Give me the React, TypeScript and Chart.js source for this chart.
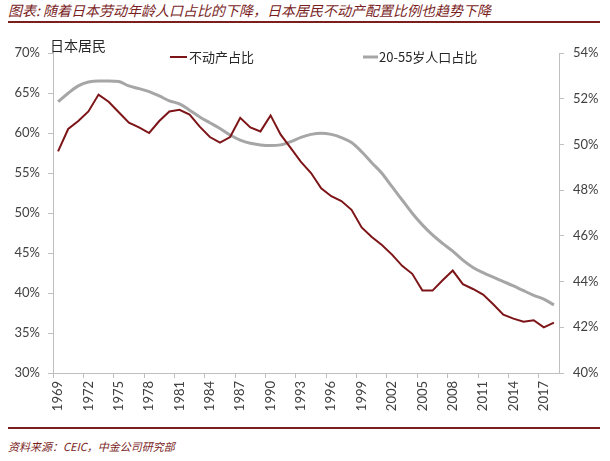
import React, { useEffect, useRef } from 'react';
import { Chart, registerables } from 'chart.js';

Chart.register(...registerables);

const titleText = '图表: 随着日本劳动年龄人口占比的下降，日本居民不动产配置比例也趋势下降';
const sourceText = '资料来源：CEIC，中金公司研究部';
const unitLabel = '日本居民';
const seriesNames = ['不动产占比', '20-55岁人口占比'];

const years = [
  '1969', '1970', '1971', '1972', '1973', '1974', '1975', '1976', '1977', '1978',
  '1979', '1980', '1981', '1982', '1983', '1984', '1985', '1986', '1987', '1988',
  '1989', '1990', '1991', '1992', '1993', '1994', '1995', '1996', '1997', '1998',
  '1999', '2000', '2001', '2002', '2003', '2004', '2005', '2006', '2007', '2008',
  '2009', '2010', '2011', '2012', '2013', '2014', '2015', '2016', '2017', '2018',
];

// 不动产占比 (left axis, %)
const realEstateShare = [
  57.7, 60.5, 61.5, 62.7, 64.8, 63.9, 62.6, 61.3, 60.7, 60.0,
  61.5, 62.7, 62.9, 62.3, 60.8, 59.5, 58.8, 59.5, 61.9, 60.7,
  60.2, 62.2, 59.8, 58.1, 56.4, 55.0, 53.1, 52.1, 51.5, 50.4,
  48.2, 47.0, 46.0, 44.8, 43.4, 42.4, 40.3, 40.3, 41.6, 42.8,
  41.1, 40.5, 39.8, 38.6, 37.3, 36.8, 36.4, 36.6, 35.7, 36.3,
];

// 20-55岁人口占比 (right axis, %)
const workingAgeShare = [
  51.87, 52.24, 52.56, 52.73, 52.78, 52.78, 52.75, 52.56, 52.44, 52.31,
  52.12, 51.91, 51.77, 51.5, 51.2, 50.95, 50.7, 50.41, 50.19, 50.05,
  49.98, 49.95, 49.98, 50.12, 50.31, 50.44, 50.49, 50.44, 50.3, 50.08,
  49.68, 49.2, 48.74, 48.15, 47.57, 46.99, 46.48, 46.04, 45.67, 45.33,
  44.94, 44.62, 44.39, 44.19, 44.0, 43.81, 43.6, 43.4, 43.23, 42.98,
];

const leftAxis = { min: 30, max: 70, step: 5 };
const rightAxis = { min: 40, max: 54, step: 2 };
const xLabelEvery = 3;

const RED = '#7d1518';
const GREY = '#a6a6a6';
const AXIS = '#bfbfbf';
const TEXT = '#404040';
const BRAND = '#7a1e1e';

const overlayPlugin = {
  id: 'overlay',
  afterDraw(chart: any) {
    const { ctx, chartArea } = chart;
    ctx.save();
    ctx.textBaseline = 'middle';
    ctx.textAlign = 'left';
    ctx.fillStyle = '#262626';
    ctx.font = '14px "Noto Sans CJK SC"';
    ctx.fillText(unitLabel, chartArea.left - 3, chartArea.top - 7);

    const ly = chartArea.top + 4;
    ctx.font = '13px "Noto Sans CJK SC"';
    // legend item 1
    ctx.strokeStyle = RED;
    ctx.lineWidth = 2;
    ctx.beginPath();
    ctx.moveTo(170, ly);
    ctx.lineTo(187, ly);
    ctx.stroke();
    ctx.fillText(seriesNames[0], 189, ly);
    // legend item 2
    ctx.strokeStyle = GREY;
    ctx.lineWidth = 3;
    ctx.beginPath();
    ctx.moveTo(363, ly);
    ctx.lineTo(378, ly);
    ctx.stroke();
    ctx.fillText(seriesNames[1], 379, ly);
    ctx.restore();
  },
};

export default function App() {
  const ref = useRef<HTMLCanvasElement | null>(null);

  useEffect(() => {
    if (!ref.current) return;
    const tickFont = { family: 'Lato', size: 13 };
    const chart = new Chart(ref.current, {
      type: 'line',
      data: {
        labels: years,
        datasets: [
          {
            label: seriesNames[0],
            data: realEstateShare,
            yAxisID: 'yL',
            borderColor: RED,
            backgroundColor: RED,
            borderWidth: 2,
            pointRadius: 0,
            tension: 0,
            order: 0,
          },
          {
            label: seriesNames[1],
            data: workingAgeShare,
            yAxisID: 'yR',
            borderColor: GREY,
            backgroundColor: GREY,
            borderWidth: 3,
            pointRadius: 0,
            cubicInterpolationMode: 'monotone',
            order: 1,
          },
        ],
      },
      options: {
        animation: false,
        responsive: true,
        maintainAspectRatio: false,
        events: [],
        layout: { padding: { top: 23, left: 0, right: 0, bottom: 0 } },
        plugins: { legend: { display: false }, tooltip: { enabled: false } },
        scales: {
          x: {
            type: 'category',
            offset: true,
            grid: {
              offset: true,
              drawOnChartArea: false,
              drawTicks: true,
              tickLength: 5,
              color: (c: any) => (c.index % xLabelEvery === 0 ? AXIS : 'rgba(0,0,0,0)'),
              tickColor: (c: any) => (c.index % xLabelEvery === 0 ? AXIS : 'rgba(0,0,0,0)'),
            },
            border: { color: AXIS, width: 1 },
            ticks: {
              autoSkip: false,
              minRotation: 90,
              maxRotation: 90,
              padding: 3,
              color: TEXT,
              font: { family: 'Lato', size: 13 },
              callback: function (this: any, value: any, index: number) {
                return index % xLabelEvery === 0 ? this.getLabelForValue(value) : '';
              },
            },
            afterFit: (s: any) => {
              s.height = 47;
            },
          },
          yL: {
            position: 'left',
            min: leftAxis.min,
            max: leftAxis.max,
            grid: { drawOnChartArea: false, tickLength: 5, color: AXIS },
            border: { color: AXIS, width: 1 },
            ticks: {
              stepSize: leftAxis.step,
              padding: 8,
              color: TEXT,
              font: tickFont,
              callback: (v: any) => `${v}%`,
            },
            afterFit: (s: any) => {
              s.width = 53;
            },
          },
          yR: {
            position: 'right',
            min: rightAxis.min,
            max: rightAxis.max,
            grid: { drawOnChartArea: false, tickLength: 5, color: AXIS },
            border: { color: AXIS, width: 1 },
            ticks: {
              stepSize: rightAxis.step,
              padding: 9,
              color: TEXT,
              font: tickFont,
              callback: (v: any) => `${v}%`,
            },
            afterFit: (s: any) => {
              s.width = 51;
            },
          },
        },
      } as any,
      plugins: [overlayPlugin],
    });
    return () => chart.destroy();
  }, []);

  return (
    <div style={{ position: 'absolute', left: 0, top: 0, width: 610, height: 461, background: '#fff', overflow: 'hidden' }}>
      <div
        style={{
          position: 'absolute',
          left: 8,
          top: 1,
          fontSize: 14,
          lineHeight: '18px',
          fontStyle: 'italic',
          color: BRAND,
          fontFamily: '"Noto Sans CJK SC", sans-serif',
          whiteSpace: 'nowrap',
        }}
      >
        {titleText}
      </div>
      <div style={{ position: 'absolute', left: 8, top: 21, width: 592, height: 0, borderTop: `2px solid ${BRAND}` }} />
      <div style={{ position: 'absolute', left: 0, top: 30, width: 610, height: 390 }}>
        <canvas ref={ref} />
      </div>
      <div style={{ position: 'absolute', left: 8, top: 427, width: 592, height: 0, borderTop: `2px solid ${BRAND}` }} />
      <div
        style={{
          position: 'absolute',
          left: 8,
          top: 438,
          fontSize: 11,
          lineHeight: '16px',
          fontStyle: 'italic',
          color: BRAND,
          fontFamily: '"Noto Sans CJK SC", sans-serif',
          whiteSpace: 'nowrap',
        }}
      >
        {sourceText}
      </div>
    </div>
  );
}
